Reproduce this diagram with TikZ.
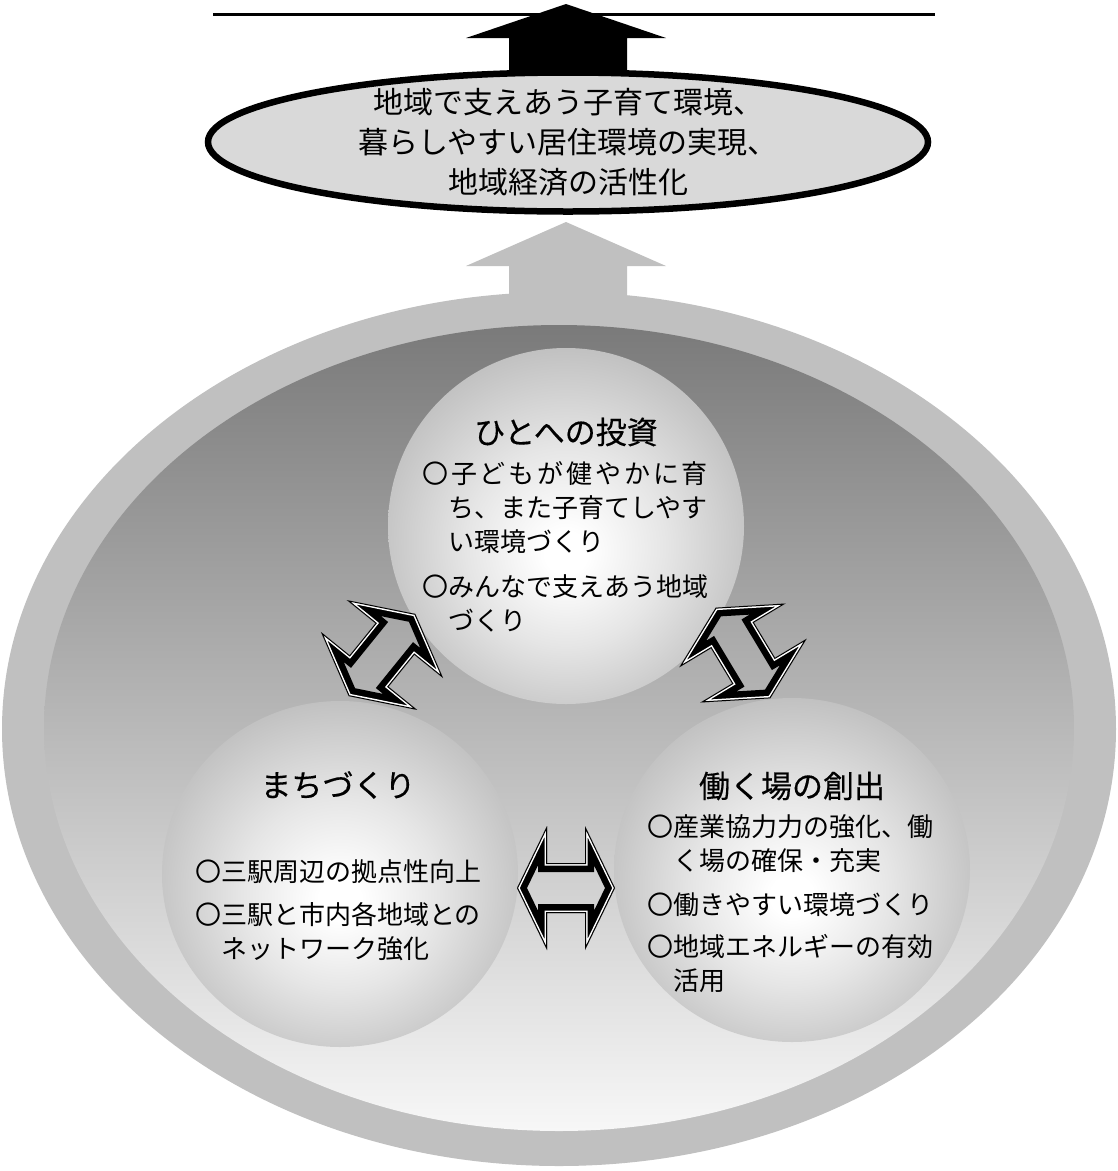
\documentclass[tikz,border=0pt]{standalone}
\usepackage{fontspec}
\setmainfont{Noto Sans CJK JP}
\usetikzlibrary{shapes.geometric}

\definecolor{ringgray}{HTML}{C0C0C0}
\definecolor{fieldtop}{HTML}{7A7A7A}
\definecolor{fieldbottom}{HTML}{F7F7F7}
\definecolor{goalfill}{HTML}{D9D9D9}

\pgfdeclareradialshading{ballshade}{\pgfpoint{0bp}{-4bp}}{color(0bp)=(white); color(3bp)=(white); color(14bp)=(black!10); color(32bp)=(black!30); color(48bp)=(black!38); color(50bp)=(black!38)}

\newcommand\twinpath{(-49,0) -- (-19,-62) -- (-19,-25) -- (19,-25) -- (19,-62) -- (49,0) -- (19,62) -- (19,25) -- (-19,25) -- (-19,62) -- cycle}

\tikzset{
  ball/.style={ellipse,inner sep=0pt,shading=ballshade},
  heading/.style={font=\fontsize{31}{36}\selectfont\addfontfeature{FakeBold=0.4}},
  bodytext/.style={font=\fontsize{26}{34}\selectfont,align=left,inner sep=0pt,anchor=north west},
  goaltext/.style={font=\fontsize{30}{40}\selectfont,align=center},
  pics/twinarrow/.style={code={
    \begin{scope}
      \clip \twinpath;
      \draw[line width=18pt] \twinpath;
      \draw[white,line width=5pt] \twinpath;
      \draw[line width=2pt] \twinpath;
    \end{scope}
  }}
}

\begin{document}
\begin{tikzpicture}[x=1pt,y=-1pt]
   \fill[white] (0,0) rectangle (1118,1171);
   \useasboundingbox (0,0) rectangle (1118,1171);

   % goal at the top
   \draw[line width=3pt] (213,14) -- (935,14);
   \fill (566,4) -- (666,38) -- (627,38) -- (627,80) -- (509,80) -- (509,38) -- (466,38) -- cycle;
   \node[ellipse,draw,line width=6.5pt,fill=goalfill,inner sep=0pt,minimum width=720pt,minimum height=139pt] (goal) at (568,142) {};
   \node[goaltext] (goaltxt) at (goal.center) {地域で支えあう子育て環境、\\暮らしやすい居住環境の実現、\\地域経済の活性化};

   % gray arrow and the big field
   \fill[ringgray] (566,222) -- (666,266) -- (627,266) -- (627,320) -- (509,320) -- (509,266) -- (466,266) -- cycle;
   \node[ellipse,fill=ringgray,inner sep=0pt,minimum width=1114pt,minimum height=874pt] (frame) at (559,729) {};
   \node[ellipse,inner sep=0pt,top color=fieldtop,middle color=black!23,bottom color=fieldbottom,minimum width=1030pt,minimum height=806pt] (field) at (559,728) {};

   % three balls
   \node[ball,minimum width=356pt,minimum height=356pt] (invest) at (566,526) {};
   \node[ball,minimum width=356pt,minimum height=346pt] (town) at (340,874) {};
   \node[ball,minimum width=356pt,minimum height=344pt] (work) at (792,870) {};

   \node[heading] (investttl) at (566,432) {ひとへの投資};
   \node[bodytext] (investtxt) at (422,461) {{\addfontfeature{LetterSpace=11}〇子どもが健やかに育}\\
     \hspace*{1em}ち、また子育てしやす\\
     \hspace*{1em}い環境づくり\\[11pt]
     〇みんなで支えあう地域\\
     \hspace*{1em}づくり};

   \node[heading] (townttl) at (338,785) {まちづくり};
   \node[bodytext] (towntxt) at (195,859) {〇三駅周辺の拠点性向上\\[9pt]
     〇三駅と市内各地域との\\
     \hspace*{1em}ネットワーク強化};

   \node[heading] (workttl) at (792,786) {働く場の創出};
   \node[bodytext] (worktxt) at (647,814) {〇産業協力力の強化、働\\
     \hspace*{1em}く場の確保・充実\\[10pt]
     〇働きやすい環境づくり\\[8pt]
     〇地域エネルギーの有効\\
     \hspace*{1em}活用};

   % links between the balls
   \pic[rotate=51,xscale=1.08] (linkL) at (382,655) {twinarrow};
   \pic[rotate=-59,xscale=1.08] (linkR) at (743,653) {twinarrow};
   \pic (linkB) at (566,888) {twinarrow};
\end{tikzpicture}
\end{document}
